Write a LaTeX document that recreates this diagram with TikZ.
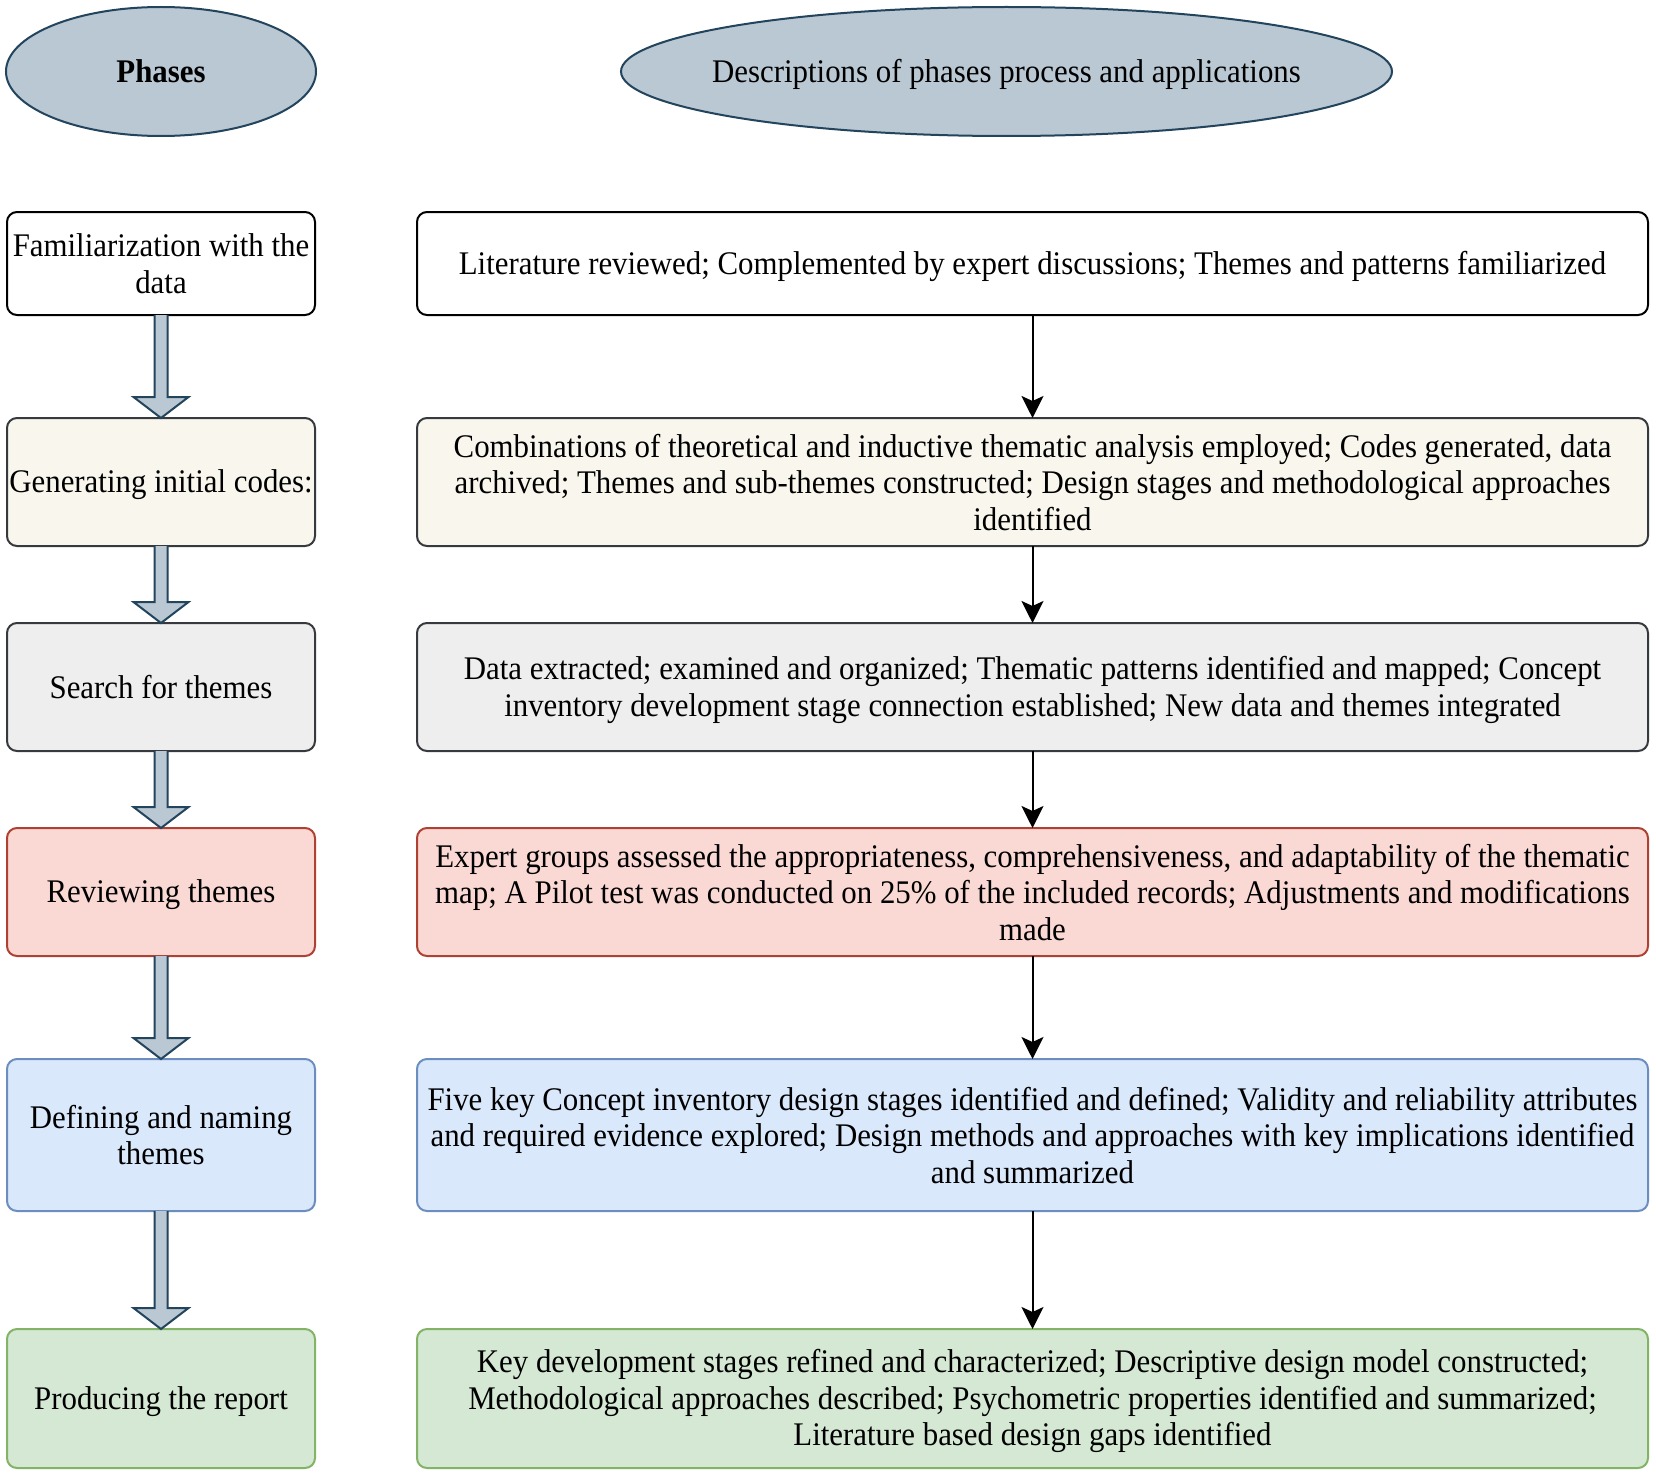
\documentclass[tikz,border=0pt]{standalone}
\usepackage{fontspec}
\setmainfont{Liberation Serif}[FakeStretch=0.935]
\usetikzlibrary{calc,arrows.meta,shapes.geometric}
\definecolor{ellfill}{HTML}{BAC8D3}
\definecolor{ellline}{HTML}{23445D}
\definecolor{yelfill}{HTML}{F9F7ED}
\definecolor{darkline}{HTML}{36393D}
\definecolor{grayfill}{HTML}{EEEEEE}
\definecolor{redfill}{HTML}{FAD9D5}
\definecolor{redline}{HTML}{AE4132}
\definecolor{bluefill}{HTML}{DAE8FC}
\definecolor{blueline}{HTML}{6C8EBF}
\definecolor{greenfill}{HTML}{D5E8D4}
\definecolor{greenline}{HTML}{82B366}
\newcommand\lstr{\rule[-6pt]{0pt}{35pt}}
\tikzset{
  basefont/.style={font=\fontsize{33}{36.5}\selectfont},
  header/.style={ellipse, draw=ellline, fill=ellfill, line width=2pt, inner sep=0pt, outer sep=0pt, minimum height=129pt},
  headtext/.style={basefont, align=center, inner sep=0pt},
  box/.style={rectangle, rounded corners=10pt, line width=2pt, inner sep=0pt, outer sep=0pt, basefont, align=center},
  leftbox/.style={box, minimum width=308pt},
  rightbox/.style={box, minimum width=1231pt},
  whitebox/.style={draw=black, fill=white},
  yelbox/.style={draw=darkline, fill=yelfill},
  graybox/.style={draw=darkline, fill=grayfill},
  redbox/.style={draw=redline, fill=redfill},
  bluebox/.style={draw=blueline, fill=bluefill},
  greenbox/.style={draw=greenline, fill=greenfill},
  conn/.style={draw=black, line width=2pt, -{Stealth[length=22pt,width=22pt,inset=5pt]}},
  blockarr/.style={draw=ellline, fill=ellfill, line width=2pt, line join=miter}
}
\newcommand\blkarrow[2]{%
  \filldraw[blockarr] ($(#1.south)+(-6.5,0)$) -- ($(#2.north)+(-6.5,-21)$) -- ($(#2.north)+(-27.5,-21)$) -- (#2.north) -- ($(#2.north)+(27.5,-21)$) -- ($(#2.north)+(6.5,-21)$) -- ($(#1.south)+(6.5,0)$);}
\begin{document}
\begin{tikzpicture}[x=1pt,y=-1pt]
\useasboundingbox (0,0) rectangle (1656,1477);
\fill[white] (0,0) rectangle (1656,1477);

\node[header, minimum width=310pt] (hph) at (161,71.5) {};
\node[headtext] (hpht) at (hph.center) {\lstr\textbf{Phases}};
\node[header, minimum width=771pt] (hds) at (1006.5,71.5) {};
\node[headtext] (hdst) at (hds.center) {\lstr Descriptions of phases process and applications};

\node[leftbox, whitebox, minimum height=103pt] (L1) at (161,263.5) {\lstr Familiarization with the\\\lstr data};
\node[leftbox, yelbox, minimum height=128pt] (L2) at (161,482) {\lstr Generating initial codes:};
\node[leftbox, graybox, minimum height=128pt] (L3) at (161,687) {\lstr Search for themes};
\node[leftbox, redbox, minimum height=128pt] (L4) at (161,892) {\lstr Reviewing themes};
\node[leftbox, bluebox, minimum height=152pt] (L5) at (161,1135) {\lstr Defining and naming\\\lstr themes};
\node[leftbox, greenbox, minimum height=139pt] (L6) at (161,1398.5) {\lstr Producing the report};

\node[rightbox, whitebox, minimum height=103pt] (R1) at (1032.5,263.5) {\lstr Literature reviewed; Complemented by expert discussions; Themes and patterns familiarized};
\node[rightbox, yelbox, minimum height=128pt] (R2) at (1032.5,482) {\lstr Combinations of theoretical and inductive thematic analysis employed; Codes generated, data\\\lstr archived; Themes and sub-themes constructed; Design stages and methodological approaches\\\lstr identified};
\node[rightbox, graybox, minimum height=128pt] (R3) at (1032.5,687) {\lstr Data extracted; examined and organized; Thematic patterns identified and mapped; Concept\\\lstr inventory development stage connection established; New data and themes integrated};
\node[rightbox, redbox, minimum height=128pt] (R4) at (1032.5,892) {\lstr Expert groups assessed the appropriateness, comprehensiveness, and adaptability of the thematic\\\lstr map; A Pilot test was conducted on 25\% of the included records; Adjustments and modifications\\\lstr made};
\node[rightbox, bluebox, minimum height=152pt] (R5) at (1032.5,1135) {\lstr Five key Concept inventory design stages identified and defined; Validity and reliability attributes\\\lstr and required evidence explored; Design methods and approaches with key implications identified\\\lstr and summarized};
\node[rightbox, greenbox, minimum height=139pt] (R6) at (1032.5,1398.5) {\lstr Key development stages refined and characterized; Descriptive design model constructed;\\\lstr Methodological approaches described; Psychometric properties identified and summarized;\\\lstr Literature based design gaps identified};

\blkarrow{L1}{L2}
\blkarrow{L2}{L3}
\blkarrow{L3}{L4}
\blkarrow{L4}{L5}
\blkarrow{L5}{L6}

\draw[conn] (R1.south) -- (R2.north);
\draw[conn] (R2.south) -- (R3.north);
\draw[conn] (R3.south) -- (R4.north);
\draw[conn] (R4.south) -- (R5.north);
\draw[conn] (R5.south) -- (R6.north);
\end{tikzpicture}
\end{document}
